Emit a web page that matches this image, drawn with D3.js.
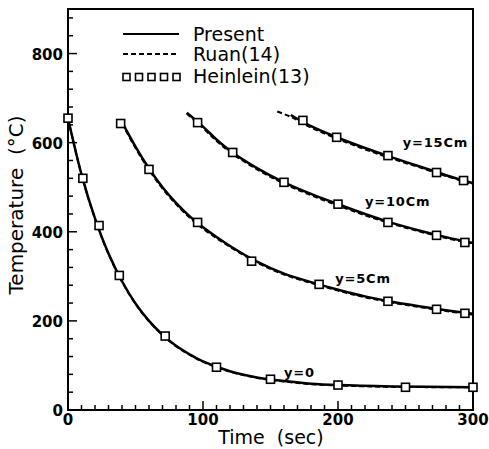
<!DOCTYPE html>
<html lang="en">
<head>
  <meta charset="UTF-8" />
  <title>Temperature vs Time</title>
  <style>
    body { margin: 0; padding: 0; background: #fff; }
    svg { display: block; font-family: "DejaVu Sans", "Liberation Sans", Arial, sans-serif; }
    .tick-label { font-size: 15px; font-weight: bold; }
    .curve-label { font-size: 13px; font-weight: bold; letter-spacing: 0.8px; }
    .legend-text { font-size: 19px; }
    .axis-title { font-size: 19px; white-space: pre; }
  </style>
  <script src="https://d3js.org/d3.v7.min.js"></script>
</head>
<body>
  <svg width="489" height="449"></svg>

  <script>
    // curves are labelled by depth y
    const depths = ["y=0", "y=5Cm", "y=10Cm", "y=15Cm"];

    // Present (solid)
    const presentT = [
      [0, 10, 20, 30, 40, 50, 60, 70, 80, 90, 100, 120, 140, 160, 180, 200, 240, 300],
      [40, 50, 60, 70, 80, 90, 100, 120, 140, 160, 180, 200, 220, 240, 260, 280, 300],
      [88, 100, 110, 120, 140, 160, 180, 200, 220, 240, 260, 280, 300],
      [165, 180, 200, 220, 240, 260, 280, 300]
    ];
    const presentV = [
      [655, 529, 430, 351, 289, 239, 200, 169, 144, 125, 109, 87, 73, 65, 59, 56, 53, 51],
      [646, 591, 542, 500, 465, 435, 410, 368, 333, 306, 287, 270, 255, 243, 233, 224, 216],
      [667, 636, 607, 582, 543, 511, 485, 462, 440, 420, 403, 388, 375],
      [662, 637, 611, 588, 567, 547, 527, 509]
    ];

    // Ruan(14) (dashed)
    const ruanT = [
      [0, 10, 20, 30, 40, 50, 60, 70, 80, 90, 100, 120, 140, 160, 180, 200, 240, 300],
      [40, 50, 60, 70, 80, 90, 100, 120, 140, 160, 180, 200, 220, 240, 260, 280, 300],
      [88, 100, 110, 120, 140, 160, 180, 200, 220, 240, 260, 280, 300],
      [155, 165, 180, 200, 220, 240, 260, 280, 300]
    ];
    const ruanV = [
      [655, 528, 429, 350, 288, 238, 199, 168, 143, 124, 108, 86, 72, 64, 58, 55, 52, 51],
      [643, 588, 539, 497, 462, 432, 407, 366, 331, 304, 285, 268, 253, 241, 231, 222, 214],
      [665, 633, 604, 579, 540, 508, 482, 459, 437, 418, 401, 386, 373],
      [670, 658, 634, 608, 585, 564, 545, 525, 507]
    ];

    // Heinlein(13) (squares)
    const heinT = [
      [0, 11, 23, 38, 72, 110, 150, 200, 250, 300],
      [39, 60, 96, 136, 186, 237, 273, 294],
      [96, 122, 160, 200, 237, 273, 294],
      [174, 199, 237, 273, 293]
    ];
    const heinV = [
      [655, 520, 414, 302, 166, 96, 69, 56, 51, 51],
      [643, 540, 421, 334, 282, 244, 226, 217],
      [645, 578, 511, 462, 421, 392, 376],
      [650, 612, 571, 533, 515]
    ];

    // label anchor points (data coords)
    const labelT = [160, 198, 220, 248];
    const labelV = [74, 286, 457, 590];

    const legendNames = ["Present", "Ruan(14)", "Heinlein(13)"];

    const xTicks = [0, 100, 200, 300];
    const yTicks = [0, 200, 400, 600, 800];

    const svg = d3.select("svg");
    const width = +svg.attr("width");
    const height = +svg.attr("height");
    const margin = { top: 9, right: 16, bottom: 39, left: 68 };

    const x = d3.scaleLinear().domain([0, 300]).range([margin.left, width - margin.right]);
    const y = d3.scaleLinear().domain([0, 900]).range([height - margin.bottom, margin.top]);

    // frame
    svg.append("rect")
      .attr("x", x(0)).attr("y", y(900))
      .attr("width", x(300) - x(0)).attr("height", y(0) - y(900))
      .attr("fill", "none").attr("stroke", "#000").attr("stroke-width", 2);

    // ticks (inward)
    const gx = svg.append("g");
    gx.selectAll("line")
      .data(d3.range(0, 301, 10))
      .join("line")
      .attr("x1", d => x(d)).attr("x2", d => x(d))
      .attr("y1", y(0)).attr("y2", d => y(0) - (d % 100 === 0 ? 9 : 5))
      .attr("stroke", "#000").attr("stroke-width", 1.5);
    gx.selectAll("text")
      .data(xTicks)
      .join("text")
      .attr("class", "tick-label")
      .attr("x", d => x(d)).attr("y", y(0) + 15)
      .attr("text-anchor", "middle")
      .text(d => d);

    const gy = svg.append("g");
    gy.selectAll("line")
      .data(d3.range(0, 881, 40))
      .join("line")
      .attr("x1", x(0)).attr("x2", d => x(0) + (d % 200 === 0 ? 9 : 5))
      .attr("y1", d => y(d)).attr("y2", d => y(d))
      .attr("stroke", "#000").attr("stroke-width", 1.5);
    gy.selectAll("text")
      .data(yTicks)
      .join("text")
      .attr("class", "tick-label")
      .attr("x", x(0) - 5).attr("y", d => y(d) + 6)
      .attr("text-anchor", "end")
      .text(d => d);

    // axis titles
    svg.append("text")
      .attr("class", "axis-title")
      .attr("x", 271).attr("y", 444)
      .attr("text-anchor", "middle")
      .text("Time  (sec)");
    svg.append("text")
      .attr("class", "axis-title")
      .attr("transform", "translate(23,205) rotate(-90)")
      .attr("text-anchor", "middle")
      .style("font-size", "20px")
      .text("Temperature  (°C)");

    const line = d3.line()
      .x(d => x(d[0])).y(d => y(d[1]))
      .curve(d3.curveCatmullRom);

    const plot = svg.append("g");

    // Ruan dashed
    plot.selectAll("path.ruan")
      .data(depths.map((_, i) => d3.zip(ruanT[i], ruanV[i])))
      .join("path")
      .attr("class", "ruan")
      .attr("d", line)
      .attr("fill", "none").attr("stroke", "#000")
      .attr("stroke-width", 2).attr("stroke-dasharray", "5,3");

    // Present solid
    plot.selectAll("path.present")
      .data(depths.map((_, i) => d3.zip(presentT[i], presentV[i])))
      .join("path")
      .attr("class", "present")
      .attr("d", line)
      .attr("fill", "none").attr("stroke", "#000")
      .attr("stroke-width", 2.5);

    // Heinlein squares
    const s = 8;
    depths.forEach((_, i) => {
      plot.append("g").selectAll("rect")
        .data(d3.zip(heinT[i], heinV[i]))
        .join("rect")
        .attr("x", d => x(d[0]) - s / 2).attr("y", d => y(d[1]) - s / 2)
        .attr("width", s).attr("height", s)
        .attr("fill", "#fff").attr("stroke", "#000").attr("stroke-width", 1.6);
    });

    // curve labels
    svg.selectAll("text.curve-label")
      .data(depths)
      .join("text")
      .attr("class", "curve-label")
      .attr("x", (d, i) => x(labelT[i]))
      .attr("y", (d, i) => y(labelV[i]))
      .text(d => d);

    // legend
    const lg = svg.append("g");
    const ly = [34, 54, 77];
    lg.append("line")
      .attr("x1", 123).attr("x2", 179).attr("y1", ly[0]).attr("y2", ly[0])
      .attr("stroke", "#000").attr("stroke-width", 2);
    lg.append("line")
      .attr("x1", 123).attr("x2", 179).attr("y1", ly[1]).attr("y2", ly[1])
      .attr("stroke", "#000").attr("stroke-width", 2).attr("stroke-dasharray", "5,3");
    const ls = 7;
    lg.selectAll("rect")
      .data(d3.range(5))
      .join("rect")
      .attr("x", d => 123 + d * 12.5).attr("y", ly[2] - ls / 2)
      .attr("width", ls).attr("height", ls)
      .attr("fill", "#fff").attr("stroke", "#000").attr("stroke-width", 1.6);
    lg.selectAll("text")
      .data(legendNames)
      .join("text")
      .attr("class", "legend-text")
      .attr("x", 193).attr("y", (d, i) => [41, 61, 83][i])
      .text(d => d);
  </script>
</body>
</html>
